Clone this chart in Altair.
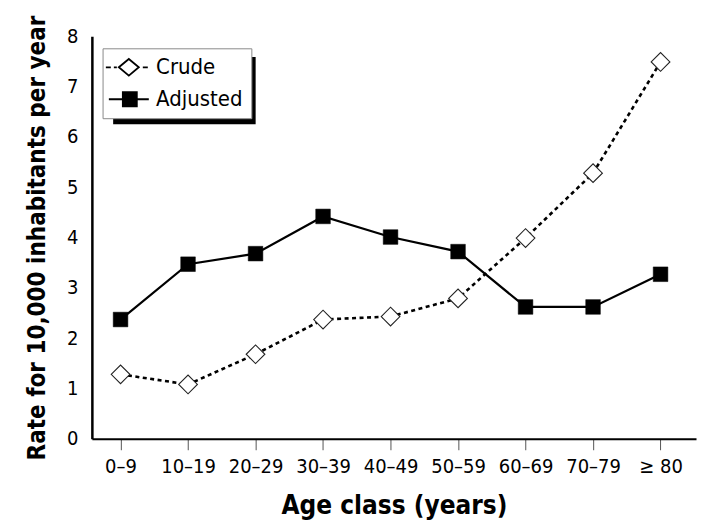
import altair as alt
import pandas as pd

# ---- data ----
categories = ["0–9", "10–19", "20–29", "30–39", "40–49", "50–59", "60–69", "70–79", "≥ 80"]
crude = [1.28, 1.08, 1.68, 2.37, 2.43, 2.79, 3.99, 5.28, 7.49]
adjusted = [2.37, 3.47, 3.68, 4.42, 4.01, 3.72, 2.62, 2.62, 3.27]
series_names = ["Crude", "Adjusted"]
y_ticks = [0, 1, 2, 3, 4, 5, 6, 7, 8]

rows = []
for cat, v in zip(categories, crude):
    rows.append({"age": cat, "series": "Crude", "rate": v})
for cat, v in zip(categories, adjusted):
    rows.append({"age": cat, "series": "Adjusted", "rate": v})
df = pd.DataFrame(rows)

FONT = "DejaVu Sans Condensed, Liberation Sans Narrow, sans-serif"

x_enc = alt.X(
    "age:N",
    sort=categories,
    scale=alt.Scale(type="point", padding=0.475, align=0.447),
    axis=alt.Axis(
        title="Age class (years)",
        labelAngle=0,
        labelFont=FONT,
        labelFontSize=20,
        labelColor="black",
        labelPadding=7,
        ticks=True,
        tickSize=11,
        tickColor="#555555",
        tickWidth=1,
        domainColor="black",
        domainWidth=2,
        grid=False,
        titleFont=FONT,
        titleFontSize=26,
        titleFontWeight="bold",
        titleColor="black",
        titleBaseline="alphabetic",
        titleY=75,
    ),
)
y_enc = alt.Y(
    "rate:Q",
    scale=alt.Scale(domain=[0, 8], nice=False),
    axis=alt.Axis(
        title="Rate for 10,000 inhabitants per year",
        values=y_ticks,
        ticks=False,
        labelFont=FONT,
        labelFontSize=20,
        labelColor="black",
        labelPadding=14,
        domainColor="black",
        domainWidth=2.5,
        grid=True,
        gridColor="white",
        gridWidth=1.8,
        titleFont=FONT,
        titleFontSize=24,
        titleFontWeight="bold",
        titleColor="black",
        titleBaseline="alphabetic",
        titleX=-47,
        titleY=201.5,
    ),
)

base = alt.Chart(df)

adj_line = base.transform_filter("datum.series == 'Adjusted'").mark_line(
    color="black", strokeWidth=2.2
).encode(x=x_enc, y=y_enc)

crude_line = base.transform_filter("datum.series == 'Crude'").mark_line(
    color="black", strokeWidth=2.6, strokeDash=[4, 3.5]
).encode(x=x_enc, y=y_enc)

adj_pts = base.transform_filter("datum.series == 'Adjusted'").mark_point(
    shape="square", filled=True, fill="black", stroke="black", strokeWidth=0.5,
    size=215, opacity=1
).encode(x=x_enc, y=y_enc)

crude_pts = base.transform_filter("datum.series == 'Crude'").mark_point(
    shape="diamond", filled=True, fill="white", stroke="#222222", strokeWidth=1.1,
    size=350, opacity=1
).encode(x=x_enc, y=y_enc)

# legend shadow (decoration)
shadow = alt.Chart(pd.DataFrame({"d": [0]})).mark_rect(color="black").encode(
    x=alt.value(21.3), x2=alt.value(164), y=alt.value(20.7), y2=alt.value(88)
)

# legend symbols: line + marker drawn as custom paths
crude_sym = ("M-1.57,0H-1.07M-0.77,0H-0.47"
             "M-0.27,0L0.73,-0.83L1.73,0L0.73,0.83Z"
             "M2.13,0H2.63")
adj_sym = "M-1.27,0H2.73M0.13,-0.72H1.53V0.72H0.13Z"

legend_def = alt.Legend(
    title=None,
    orient="none",
    legendX=10.7,
    legendY=12,
    fillColor="white",
    strokeColor="#8a8a8a",
    padding=8,
    rowPadding=9,
    labelFont=FONT,
    labelFontSize=22,
    labelColor="black",
    labelOffset=23.6,
    symbolSize=400,
    symbolStrokeColor="black",
    symbolStrokeWidth=1.8,
)

legend_layer = alt.Chart(df).transform_filter("false").mark_point(
    filled=True, stroke="black", strokeWidth=1.8, opacity=1
).encode(
    shape=alt.Shape("series:N", scale=alt.Scale(domain=series_names, range=[crude_sym, adj_sym]),
                    legend=legend_def),
    fill=alt.Fill("series:N", scale=alt.Scale(domain=series_names, range=["white", "black"]),
                  legend=legend_def),
    stroke=alt.Stroke("series:N", scale=alt.Scale(domain=series_names, range=["black", "black"]),
                      legend=legend_def),
)

chart = alt.layer(
    adj_line, crude_line, adj_pts, crude_pts, shadow, legend_layer
).properties(
    width=605,
    height=403,
    autosize=alt.AutoSizeParams(type="none"),
    padding={"left": 84, "top": 28, "right": 8, "bottom": 85},
    background="white",
).configure_view(
    fill="#e3e3e3",
    strokeWidth=0,
)

chart.save("out.html", embed_options={"renderer": "svg", "actions": False})
